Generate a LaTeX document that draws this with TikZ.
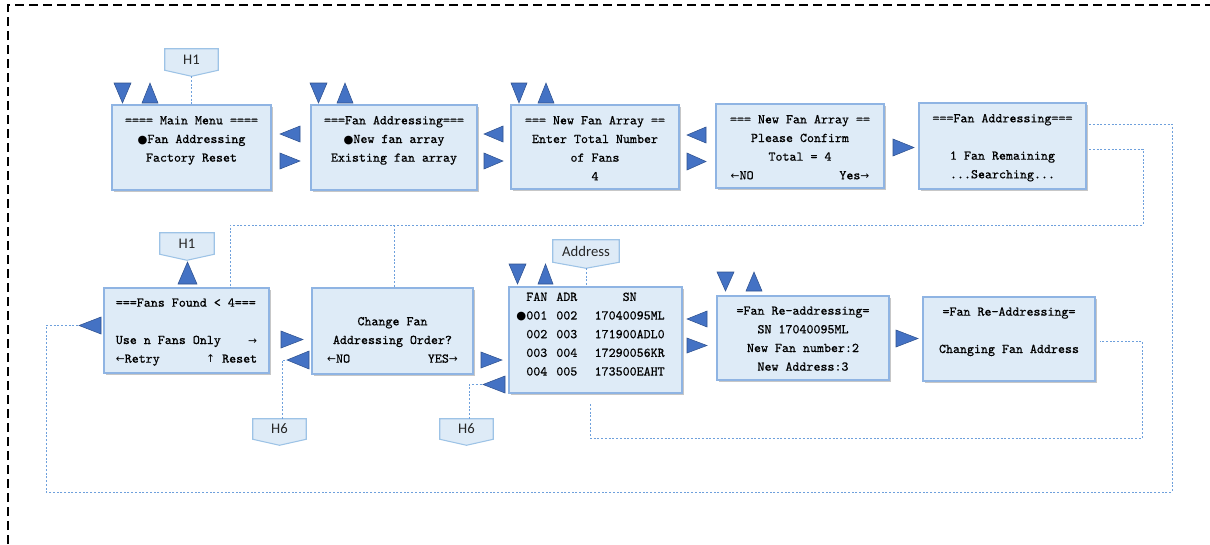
\documentclass[tikz,border=0pt]{standalone}
\usepackage{fontspec}
\newfontfamily\symf{DejaVu Sans}
\newfontfamily\lblf{Carlito}
\newfontfamily\boxf{Latin Modern Mono}[FakeBold=0.6]
\usetikzlibrary{shadows}
\pgfdeclarelayer{bg}
\pgfsetlayers{bg,main}
\definecolor{boxfill}{RGB}{222,235,247}
\definecolor{boxline}{RGB}{143,180,227}
\definecolor{triblue}{RGB}{68,114,196}
\definecolor{tridark}{RGB}{47,82,143}
\definecolor{connblue}{RGB}{110,160,220}
\definecolor{lblline}{RGB}{157,195,230}
\newcommand\arL{{\symf\fontsize{8}{14}\selectfont ←}}
\newcommand\arR{{\symf\fontsize{8}{14}\selectfont →}}
\newcommand\arU{{\symf\fontsize{8}{14}\selectfont ↑}}
\newcommand\dotb{{\symf\fontsize{8.5}{14}\selectfont ●}}
% box: name, x1, y1, x2, y2
\newcommand\ubox[5]{\node[box, minimum width={(#4-#2)*0.75pt}, minimum height={(#5-#3)*0.75pt}] (#1) at ({(#2+#4)/2},{(#3+#5)/2}) {};}
% label pentagon: name, x1, y1, x2, y2(rect bottom), text
\newcommand\ulbl[6]{\node[lbl, minimum width={(#4-#2)*0.75pt}, minimum height={(#5-#3)*0.75pt}] (#1) at ({(#2+#4)/2},{(#3+#5)/2}) {#6};
 \begin{pgfonlayer}{bg}\filldraw[lblshape] (#1.north west) -- (#1.north east) -- (#1.south east) -- ([yshift=-4.5pt]#1.south) -- (#1.south west) -- cycle;\end{pgfonlayer}}
\newcommand\tdown[4]{\filldraw[tri] (#1,#3) -- (#2,#3) -- ({(#1+#2)/2},#4) -- cycle;}
\newcommand\tup[4]{\filldraw[tri] (#1,#4) -- (#2,#4) -- ({(#1+#2)/2},#3) -- cycle;}
\newcommand\tleft[4]{\filldraw[tri] (#1,{(#3+#4)/2}) -- (#2,#3) -- (#2,#4) -- cycle;}
\newcommand\tright[4]{\filldraw[tri] (#2,{(#3+#4)/2}) -- (#1,#3) -- (#1,#4) -- cycle;}
\begin{document}
\begin{tikzpicture}[x=0.75pt,y=-0.75pt,
  box/.style={draw=boxline, line width=0.8pt, fill=boxfill, inner sep=0pt,
    drop shadow={shadow xshift=1.8pt, shadow yshift=-1.8pt, fill=black, opacity=0.22}},
  txt/.style={inner sep=0pt, align=center, font=\boxf\fontsize{10}{14}\selectfont},
  txtt/.style={inner sep=0pt, font=\boxf\fontsize{10}{14}\selectfont},
  lbl/.style={inner sep=0pt, font=\lblf\fontsize{11}{13}\selectfont, text=black!85},
  lblshape/.style={fill=boxfill, draw=lblline, line width=0.8pt},
  tri/.style={fill=triblue, draw=tridark, line width=0.4pt},
  conn/.style={draw=connblue, line width=0.7pt, dash pattern=on 1.5pt off 1.3pt},
  frame/.style={draw=black, line width=1.2pt, dash pattern=on 7pt off 3.5pt}]
\useasboundingbox (0,0) rectangle (1210,544);
\draw[frame] (8,544) -- (8,5) -- (1210,5);

% ---- top row boxes
\ubox{mm}{112}{105}{271}{190}
\ubox{fa}{311}{105}{477}{190}
\ubox{nfa}{511}{105}{679}{189}
\ubox{pc}{716}{104}{884}{188}
\ubox{fas}{919}{103}{1086}{189}
% ---- bottom row boxes
\ubox{ff}{104}{288}{269}{373}
\ubox{cf}{312}{288}{473}{374}
\ubox{tbl}{509}{287}{682}{393}
\ubox{ra}{717}{296}{889}{380}
\ubox{rb}{923}{297}{1095}{381}

% ---- texts
\node[txt, anchor=north] at ([yshift=-4.9pt]mm.north) {\strut==== Main Menu ====\\ \dotb Fan Addressing\\ Factory Reset};
\node[txt, anchor=north] at ([yshift=-4.9pt]fa.north) {\strut===Fan Addressing===\\ \dotb New fan array\\ Existing fan array};
\node[txt, anchor=north] at ([yshift=-4.9pt]nfa.north) {\strut=== New Fan Array ==\\ Enter Total Number\\ of Fans\\ 4};
\node[txt, anchor=north] at ([yshift=-4.9pt]pc.north) {\strut=== New Fan Array ==\\ Please Confirm\\ Total = 4\\ \makebox[104pt]{\arL NO\hfill Yes\arR}};
\node[txt, anchor=north] at ([yshift=-4.9pt]fas.north) {\strut===Fan Addressing===\\ \strut\\ 1 Fan Remaining\\ ...Searching...};
\node[txt, anchor=north] at ([yshift=-4.4pt]ff.north) {\makebox[106pt][l]{\strut===Fans Found < 4===}\\ \strut\\ \makebox[106pt]{Use n Fans Only\hfill\arR}\\ \makebox[106pt]{\arL Retry\hfill\arU\ Reset}};
\node[txt, anchor=north] at ([yshift=-4.4pt]cf.north) {\strut\\ Change Fan\\ Addressing Order?\\ \makebox[98pt]{\arL NO\hfill YES\arR}};
\node[txtt, anchor=north] at ([yshift=-0.8pt]tbl.north) {\begin{tabular}{@{}c@{\hspace{6.75pt}}c@{\hspace{13pt}}c@{}}FAN & ADR & SN\\ \llap{\dotb}001 & 002 & 17040095ML\\ 002 & 003 & 171900ADL0\\ 003 & 004 & 17290056KR\\ 004 & 005 & 173500EAHT\end{tabular}};
\node[txt, anchor=north] at ([yshift=-4.4pt]ra.north) {\strut=Fan Re-addressing=\\ SN 17040095ML\\ New Fan number:2\\ New Address:3};
\node[txt, anchor=north] at ([yshift=-4.4pt]rb.north) {\strut=Fan Re-Addressing=\\ \strut\\ Changing Fan Address};

% ---- labels
\ulbl{h1a}{165}{49}{218}{70}{H1}
\ulbl{h1b}{160}{233}{214}{254}{H1}
\ulbl{h6a}{253}{419}{306}{439}{H6}
\ulbl{h6b}{440}{419}{493}{439}{H6}
\ulbl{adr}{553}{240}{619}{262}{Address}

% ---- triangles top row
\tdown{114}{131}{83}{103} \tup{142}{158}{83}{103}
\tdown{310}{327}{83}{103} \tup{337}{353}{83}{103}
\tdown{511}{527}{83}{103} \tup{538}{554}{83}{103}
\tleft{280}{300}{126}{142} \tright{280}{300}{153}{169}
\tleft{484}{503}{126}{142} \tright{484}{503}{153}{169}
\tleft{687}{706}{127}{143} \tright{687}{706}{153}{170}
\tright{893}{914}{139}{156}
% ---- triangles bottom row
\tup{178}{197}{262}{284}
\tleft{79}{101}{317}{334}
\tright{281}{303}{331}{348} \tleft{287}{309}{351}{369}
\tright{481}{502}{352}{368} \tleft{483}{505}{376}{393}
\tdown{509}{526}{264}{284} \tup{538}{553}{264}{284}
\tleft{687}{707}{311}{327} \tright{687}{707}{338}{353}
\tdown{717}{734}{272}{291} \tup{746}{762}{272}{291}
\tright{896}{918}{330}{347}

\coordinate (tipA) at (79,325.5);
\coordinate (tipB) at (287,360);
\coordinate (tipC) at (483,384.5);
\coordinate (j1) at (394,225);

% ---- connectors
\draw[conn] ([yshift=-4.5pt]h1a.south) -- (h1a.south |- mm.north);
\draw[conn] ([yshift=-4.5pt]adr.south) -- (adr.south |- tbl.north);
\draw[conn] ([xshift=2pt]fas.east |- 0,124) -- (1172,124) |- (46,492) |- (tipA);
\draw[conn] ([xshift=2pt]fas.east |- 0,149) -| (1143,225) -| (ff.north -| 230,0);
\draw[conn] (j1) -- (cf.north -| 394,0);
\draw[conn] ([xshift=-4pt,yshift=-8pt]tbl.south) |- (1142,438) |- ([xshift=3pt]rb.east |- 0,341);
\draw[conn] (h6a.north -| 282,0) |- (tipB);
\draw[conn] (h6b.north -| 469,0) |- (tipC);
\end{tikzpicture}
\end{document}
